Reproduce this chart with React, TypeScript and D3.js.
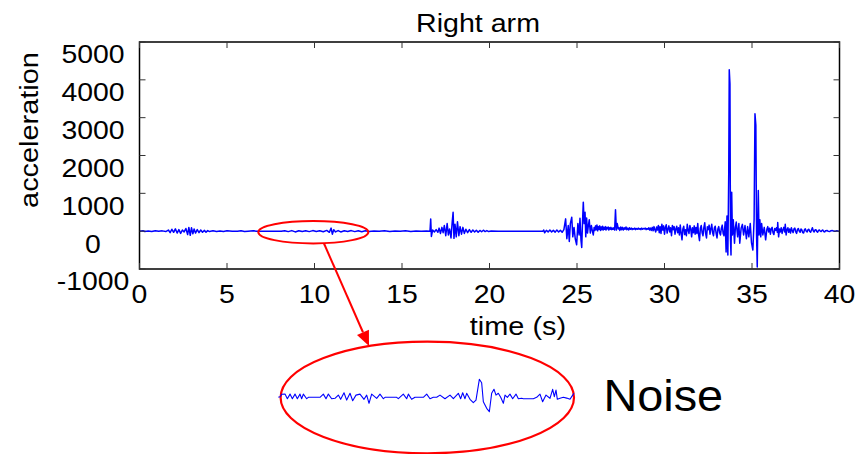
import React from "react";
import * as d3 from "d3";

// ---- Data ----
const xTicks = [0, 5, 10, 15, 20, 25, 30, 35, 40];
const yTicks = [-1000, 0, 1000, 2000, 3000, 4000, 5000];

// main signal: [time (s), acceleration]
const rightArm: [number, number][] = [
  [0, 0], [0.2, 10], [0.3, -10], [0.5, 5], [0.7, -8], [0.9, 10], [1.1, -5], [1.3, 8], [1.5, -10],
  [1.65, 30], [1.75, -40], [1.85, 50], [1.95, -30], [2.05, 60], [2.15, -50], [2.25, 40], [2.35, -60], [2.45, 30], [2.55, -20], [2.65, 70], [2.75, -90], [2.82, 100], [2.9, -110], [2.97, 90], [3.05, -70], [3.12, 60], [3.2, -50], [3.3, 40], [3.4, -40], [3.5, 30], [3.6, -30], [3.7, 20], [3.8, -25], [3.9, 15], [4.0, -10],
  [4.2, 10], [4.4, -10], [4.6, 5], [4.8, -8], [5.0, 10], [5.3, -5], [5.6, 0], [5.8, 10], [6.0, -10], [6.2, 0], [6.5, 8], [6.7, 0],
  [7.0, 0], [7.5, 0], [8.1, 0],
  [8.3, 12], [8.5, -12], [8.7, 15], [8.9, -20], [9.1, 12], [9.3, -10], [9.5, 10], [9.7, -12], [9.9, 15], [10.1, -10], [10.3, 12], [10.5, -15], [10.7, 20], [10.85, -30], [10.95, 80], [11.02, -80], [11.1, 40], [11.2, -20], [11.35, 15], [11.5, -20], [11.7, 12], [11.9, -10], [12.1, 15], [12.3, -12], [12.5, 10], [12.7, -15], [12.9, 12], [13.1, -10],
  [13.4, 5], [13.7, -5], [14.0, 8], [14.3, -8], [14.6, 5], [14.9, -5], [15.2, 8], [15.5, -8], [15.8, 5], [16.1, -5], [16.4, 5], [16.6, 0],
  [16.64, 320], [16.68, -140], [16.75, 30], [16.85, -20], [16.95, 40], [17.05, -30], [17.12, 80], [17.2, -60], [17.28, 100], [17.35, -40], [17.42, 150], [17.5, -120], [17.58, 200], [17.65, -100], [17.72, 60], [17.8, -180], [17.87, 250], [17.92, 500], [17.97, -190], [18.03, 180], [18.1, -150], [18.17, 250], [18.25, -120], [18.32, 120], [18.4, -80], [18.48, 100], [18.56, -60], [18.65, 50], [18.75, -40], [18.85, 40], [18.95, -30], [19.05, 30], [19.15, -20], [19.25, 25], [19.35, -30], [19.45, 20], [19.55, -15], [19.65, 25], [19.75, -10], [19.85, 15], [19.95, -10], [20.1, 5],
  [20.5, 0], [21.5, 0], [22.5, 0], [23.05, 0],
  [23.1, 30], [23.15, -40], [23.25, 20], [23.35, -20], [23.45, 30], [23.55, -20], [23.65, 20], [23.75, -25], [23.85, 30], [23.95, -20], [24.05, 25], [24.15, -30], [24.25, 40],
  [24.35, 325], [24.42, -200], [24.5, 150], [24.56, -275], [24.62, 200], [24.7, 370], [24.76, -150], [24.83, 100], [24.9, -200], [24.98, -360], [25.05, 200], [25.12, -100], [25.17, 340], [25.23, -250], [25.27, -430], [25.32, 300], [25.36, 767], [25.41, 200], [25.46, 500], [25.5, -150], [25.55, 350], [25.6, -50], [25.65, 150], [25.7, 300], [25.76, -50], [25.82, 150], [25.88, 0], [25.93, -100], [25.98, 100],
  [26.02, 20], [26.06, 140], [26.1, 40], [26.14, 160], [26.18, 10], [26.22, 120], [26.26, 50], [26.3, 140], [26.34, 20], [26.38, 110], [26.42, 40], [26.46, 130], [26.5, 30], [26.54, 100], [26.58, 50], [26.62, 120], [26.66, 30], [26.7, 100], [26.74, 60], [26.78, 110], [26.82, 30], [26.86, 90], [26.9, 50], [26.94, 100], [26.98, 40], [27.02, 80], [27.06, 50], [27.1, 90], [27.15, 30],
  [27.2, 563], [27.25, 30], [27.3, 200], [27.36, 60],
  [27.4, 90], [27.45, 20], [27.5, 110], [27.55, 40], [27.6, 100], [27.65, 30], [27.7, 90], [27.75, 50], [27.8, 110], [27.85, 40], [27.9, 80], [27.95, 30], [28.0, 90], [28.05, 50], [28.1, 80], [28.15, 40], [28.2, 70], [28.25, 50], [28.3, 80], [28.35, 40], [28.4, 70], [28.45, 50], [28.5, 80], [28.55, 50], [28.6, 70], [28.65, 40], [28.7, 80], [28.75, 50], [28.8, 70], [28.85, 60], [28.9, 80], [28.95, 40], [29.0, 70], [29.05, 50], [29.1, 90], [29.15, 30], [29.2, 80], [29.25, 20], [29.3, 100], [29.35, 10], [29.4, 120], [29.45, 40], [29.5, -20], [29.55, 110], [29.6, 30],
  [29.65, 150], [29.7, -40], [29.75, 120], [29.8, -60], [29.85, 180], [29.9, 30], [29.95, 140], [30.0, -80], [30.05, 100], [30.1, 170], [30.15, -50], [30.2, 60], [30.25, 140], [30.3, -20], [30.35, 90], [30.4, -120], [30.45, 150], [30.5, 40], [30.55, 120], [30.6, -80], [30.65, 60], [30.7, 130], [30.75, -40], [30.8, 90], [30.85, -100], [30.9, 160], [30.95, -50], [31.0, -230], [31.05, 60], [31.1, 130], [31.15, -90], [31.2, 40], [31.25, -120], [31.3, 180], [31.35, 20], [31.4, -60], [31.45, 150], [31.5, 60], [31.55, -150], [31.6, 90], [31.65, -40], [31.7, 140], [31.75, -80], [31.8, 100], [31.85, -60], [31.9, 200], [31.95, -100], [32.0, -250], [32.05, 80], [32.1, 150], [32.15, -40], [32.2, -120], [32.25, 100], [32.3, 220], [32.35, -60], [32.4, -180], [32.45, 120], [32.5, 40], [32.55, 160], [32.6, -80], [32.65, 60], [32.7, 180], [32.75, -40], [32.8, -120], [32.85, 90], [32.9, 130], [32.95, -60], [33.0, -180], [33.05, 60], [33.1, 120], [33.15, -40], [33.2, -100], [33.25, 80], [33.3, 160], [33.35, -60], [33.4, -120],
  [33.47, 250], [33.52, -550], [33.57, 400], [33.62, -630], [33.67, 1500], [33.7, 4267], [33.74, 3900], [33.77, -200], [33.8, -630], [33.84, 1030], [33.88, -100], [33.93, 300],
  [34.0, -320], [34.05, 100], [34.1, 240], [34.18, -150], [34.25, 200], [34.3, -320], [34.38, 80], [34.45, 180], [34.52, -100], [34.6, 150], [34.68, -200], [34.75, 120], [34.82, -150], [34.9, 200], [34.97, -300], [35.05, -500], [35.12, 300],
  [35.17, 3103], [35.22, 2800], [35.26, -100], [35.3, -950], [35.33, 200], [35.36, 1075], [35.4, -100], [35.45, 300], [35.5, -150], [35.55, 200], [35.62, -100], [35.7, 100], [35.78, -230], [35.85, 50],
  [35.9, 120], [35.95, -20], [36.0, 80], [36.05, -80], [36.1, 60], [36.15, 100], [36.2, -40], [36.25, -90], [36.3, 70], [36.35, 20], [36.4, 90], [36.45, -30], [36.47, 230], [36.52, -150], [36.57, 60], [36.62, -20], [36.67, 90], [36.72, -60], [36.77, 40], [36.82, 100], [36.87, -20], [36.9, 180], [36.95, -100], [37.0, 40], [37.05, 90], [37.1, -30], [37.15, 60], [37.2, -50], [37.25, 90], [37.3, 10], [37.35, -40], [37.4, 60], [37.45, 80], [37.5, -20], [37.55, -60], [37.6, 50], [37.65, 70], [37.7, 0], [37.75, -30], [37.8, 60], [37.85, 30], [37.9, -40], [37.95, -50], [38.0, 40], [38.05, 60], [38.1, 0], [38.15, -20], [38.2, 40], [38.25, 50], [38.3, -10], [38.35, -30], [38.4, 30], [38.45, 90], [38.5, 10], [38.55, -20], [38.6, 30], [38.65, 40], [38.7, -10], [38.75, -30], [38.8, 20], [38.85, 30], [38.9, 0], [38.95, -10], [39.0, 20], [39.05, 30], [39.1, -10], [39.15, -20], [39.2, 10], [39.3, 20], [39.35, -5], [39.45, -10], [39.5, 10], [39.6, 15], [39.7, 0], [39.75, -5], [39.85, 10], [39.9, 5], [40, 0],
];

// magnified noise segment (7 s – 13 s): [time (s), acceleration]
const noiseDetail: [number, number][] = [
  [7.007, -3], [7.041, 0], [7.075, 12], [7.142, 13], [7.19, -10], [7.244, 13], [7.291, -10], [7.345, 13], [7.392, -10], [7.446, 13], [7.48, -10], [7.514, 13], [7.582, -10], [7.616, -3],
  [7.852, -3], [7.92, 13], [7.974, -10], [8.021, 13], [8.089, -10], [8.156, -8], [8.224, 8], [8.271, -13], [8.339, 20], [8.393, -17], [8.461, 17], [8.515, -20],
  [8.582, 8], [8.663, 13], [8.745, -13], [8.799, 8], [8.846, -33], [8.9, 13], [9.002, -8], [9.069, 13], [9.137, -10], [9.171, -3], [9.407, -3], [9.441, -10],
  [9.542, 13], [9.61, -10], [9.644, 13], [9.711, -13], [9.779, -3], [9.948, -3], [10.016, 13], [10.083, -10], [10.151, -3], [10.219, -3],
  [10.286, 8], [10.387, -10], [10.489, 8], [10.557, -10], [10.658, 17], [10.705, -10], [10.746, 20], [10.793, -10], [10.827, 17],
  [10.895, -13], [10.962, -30], [11.016, -17], [11.084, 87], [11.131, 70], [11.165, -25], [11.233, -58], [11.287, -75],
  [11.334, 17], [11.381, 37], [11.422, 8], [11.469, 17], [11.517, -3], [11.571, -33], [11.605, 8], [11.652, -3],
  [11.706, 13], [11.76, -10], [11.828, 13], [11.875, -10], [11.943, -8], [11.976, -10], [12.179, -10],
  [12.247, -3], [12.314, 13], [12.368, -25], [12.436, 8], [12.517, -8], [12.571, 37], [12.605, 0], [12.639, 33], [12.666, -13],
  [12.72, -8], [12.788, -3], [12.855, -7], [12.923, -13], [12.964, 3], [13.004, 17],
];

const FONT = "'Liberation Sans', Arial, Helvetica, sans-serif";

function SText(props: {
  x: number; y: number; size: number; sx: number; anchor?: string; rotate?: number; children: React.ReactNode;
}) {
  const { x, y, size, sx, anchor = "middle", rotate = 0, children } = props;
  return (
    <text
      transform={`translate(${x},${y}) rotate(${rotate}) scale(${sx},1)`}
      textAnchor={anchor}
      fontFamily={FONT}
      fontSize={size}
      fill="#000"
    >
      {children}
    </text>
  );
}

export default function App() {
  const W = 866, H = 454;
  const left = 139.5, right = 839.5, top = 42, bottom = 269;

  const x = d3.scaleLinear().domain([0, 40]).range([left, right]);
  const y = d3.scaleLinear().domain([-1000, 5000]).range([bottom, top]);

  const line = d3.line<[number, number]>().x((d) => x(d[0])).y((d) => y(d[1]));

  // inset (magnified noise)
  const xi = d3.scaleLinear().domain([7, 13]).range([278, 573.8]);
  const yi = d3.scaleLinear().domain([-100, 100]).range([416.7, 376.7]);
  const lineInset = d3.line<[number, number]>().x((d) => xi(d[0])).y((d) => yi(d[1]));

  const tl = 6;

  // arrow
  const ax1 = 324, ay1 = 243.5, ax2 = 369, ay2 = 346;
  const ang = Math.atan2(ay2 - ay1, ax2 - ax1);
  const hl = 15, hw = 6.5;
  const bx = ax2 - hl * Math.cos(ang), by = ay2 - hl * Math.sin(ang);
  const px = -Math.sin(ang) * hw, py = Math.cos(ang) * hw;

  return (
    <svg width={W} height={H} style={{ position: "absolute", left: 0, top: 0, background: "#fff" }}>
      <rect x={0} y={0} width={W} height={H} fill="#fff" />
      {/* signal */}
      <path d={line(rightArm) || ""} fill="none" stroke="#0000ff" strokeWidth={1.5} strokeLinejoin="round" />
      {/* frame */}
      <rect x={left} y={top} width={right - left} height={bottom - top} fill="none" stroke="#000" strokeWidth={1.5} />
      {xTicks.map((t) => (
        <g key={"xt" + t}>
          <line x1={x(t)} x2={x(t)} y1={bottom} y2={bottom - tl} stroke="#333" strokeWidth={1} />
          <line x1={x(t)} x2={x(t)} y1={top} y2={top + tl} stroke="#333" strokeWidth={1} />
          <SText x={x(t)} y={303.3} size={25.6} sx={1.11}>{String(t)}</SText>
        </g>
      ))}
      {yTicks.map((v) => (
        <g key={"yt" + v}>
          <line x1={left} x2={left + tl} y1={y(v)} y2={y(v)} stroke="#333" strokeWidth={1} />
          <line x1={right} x2={right - tl} y1={y(v)} y2={y(v)} stroke="#333" strokeWidth={1} />
          <SText x={93} y={y(v) + 21.4} size={25.6} sx={1.11}>{String(v)}</SText>
        </g>
      ))}
      <SText x={478} y={31.7} size={25.6} sx={1.117}>Right arm</SText>
      <SText x={518} y={335} size={25.6} sx={1.13}>time (s)</SText>
      <SText x={37.5} y={130} size={25.6} sx={1.13} rotate={-90}>acceleration</SText>

      {/* annotation */}
      <ellipse cx={313.3} cy={232.2} rx={55} ry={11.2} fill="none" stroke="#ff0000" strokeWidth={2} />
      <line x1={ax1} y1={ay1} x2={bx} y2={by} stroke="#ff0000" strokeWidth={2} />
      <polygon points={`${ax2},${ay2} ${bx + px},${by + py} ${bx - px},${by - py}`} fill="#ff0000" />
      <ellipse cx={427.3} cy={397.5} rx={146.7} ry={55.8} fill="none" stroke="#ff0000" strokeWidth={2.2} />
      <path d={lineInset(noiseDetail) || ""} fill="none" stroke="#0000ff" strokeWidth={1.1} strokeLinejoin="round" />
      <SText x={603.5} y={410.7} size={45} sx={1.04} anchor="start">Noise</SText>
    </svg>
  );
}
